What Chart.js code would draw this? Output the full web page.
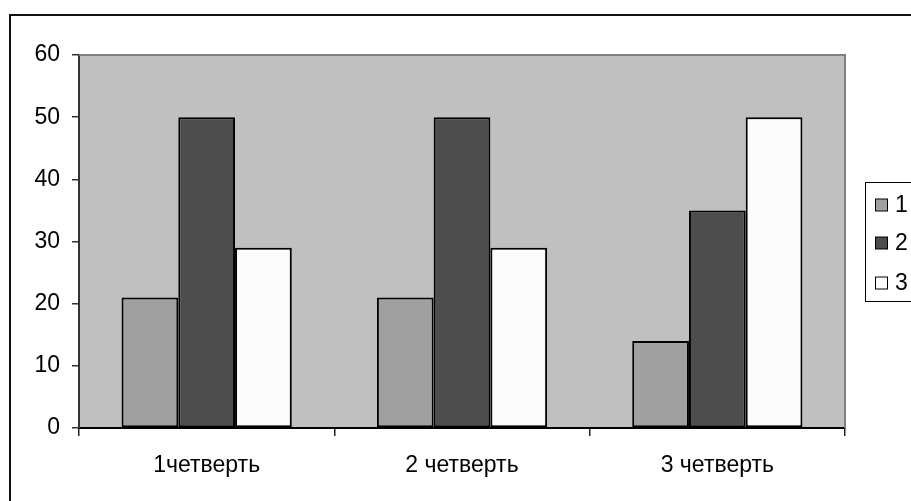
<!DOCTYPE html>
<html>
<head>
<meta charset="utf-8">
<script src="https://cdn.jsdelivr.net/npm/chart.js@4.4.1/dist/chart.umd.min.js"></script>
<style>
  html, body { margin: 0; padding: 0; background: #fff; }
  #wrap { width: 911px; height: 501px; }
</style>
</head>
<body>
<div id="wrap"><canvas id="quarterChart"></canvas></div>
<script>
const categories = ['1четверть', '2 четверть', '3 четверть'];
const seriesLabels = ['1', '2', '3'];
const series1 = [21, 21, 14];
const series2 = [50, 50, 35];
const series3 = [29, 29, 50];
const yTicks = [0, 10, 20, 30, 40, 50, 60];

const fills = ['#a0a0a0', '#4d4d4d', '#fcfcfc'];
const font = {family: '"Liberation Sans", Arial, sans-serif', size: 23};

// plot background, outer frame, plot border and the boxed legend
const decor = {
    id: 'decor',
    beforeDraw(chart) {
        const {ctx, chartArea: a} = chart;
        ctx.save();
        ctx.fillStyle = '#c0c0c0';
        ctx.fillRect(a.left, a.top, a.right - a.left, a.bottom - a.top);
        ctx.strokeStyle = '#111';
        ctx.lineWidth = 2;
        ctx.strokeRect(10, 15, 1000, 1000);
        ctx.restore();
    },
    afterDraw(chart) {
        const {ctx, chartArea: a} = chart;
        ctx.save();
        ctx.strokeStyle = '#808080';
        ctx.lineWidth = 2;
        ctx.beginPath();
        ctx.moveTo(a.left, a.top);
        ctx.lineTo(a.right, a.top);
        ctx.lineTo(a.right, a.bottom);
        ctx.stroke();

        // legend
        ctx.strokeStyle = '#000';
        ctx.lineWidth = 1;
        ctx.strokeRect(865.5, 182.5, 200, 119);
        ctx.font = font.size + 'px ' + font.family;
        ctx.textBaseline = 'middle';
        const rows = [205, 243, 283];
        chart.data.datasets.forEach((ds, i) => {
            const y = rows[i];
            ctx.fillStyle = ds.backgroundColor;
            ctx.fillRect(875.5, y - 6, 12, 12);
            ctx.strokeStyle = '#000';
            ctx.strokeRect(875.5, y - 6, 12, 12);
            ctx.fillStyle = '#000';
            ctx.fillText(ds.label, 895, y + 1);
        });
        ctx.restore();
    }
};

const ctx = document.getElementById('quarterChart').getContext('2d');
new Chart(ctx, {
    type: 'bar',
    data: {
        labels: categories,
        datasets: [series1, series2, series3].map((values, i) => ({
            label: seriesLabels[i],
            data: values,
            backgroundColor: fills[i],
            borderColor: '#000',
            borderWidth: 2,
            borderSkipped: false,
            categoryPercentage: 2 / 3,
            barPercentage: 1.0
        }))
    },
    options: {
        responsive: true,
        maintainAspectRatio: false,
        animation: false,
        layout: {
            padding: {left: 0, top: 55, right: 66, bottom: 0}
        },
        plugins: {
            legend: {display: false},
            tooltip: {enabled: false}
        },
        scales: {
            x: {
                afterFit: s => { s.height = 73; },
                grid: {
                    display: true,
                    drawOnChartArea: false,
                    offset: true,
                    tickLength: 8,
                    color: '#222',
                    lineWidth: 1.5
                },
                border: {color: '#000', width: 2},
                ticks: {color: '#000', font: font, padding: 16, maxRotation: 0}
            },
            y: {
                min: 0,
                max: 60,
                afterFit: s => { s.width = 79; },
                afterBuildTicks: s => { s.ticks = yTicks.map(v => ({value: v})); },
                grid: {
                    display: true,
                    drawOnChartArea: false,
                    tickLength: 7,
                    color: '#333',
                    lineWidth: 1.5
                },
                border: {color: '#333', width: 2},
                ticks: {color: '#000', font: font, padding: 12}
            }
        }
    },
    plugins: [decor]
});
</script>
</body>
</html>
